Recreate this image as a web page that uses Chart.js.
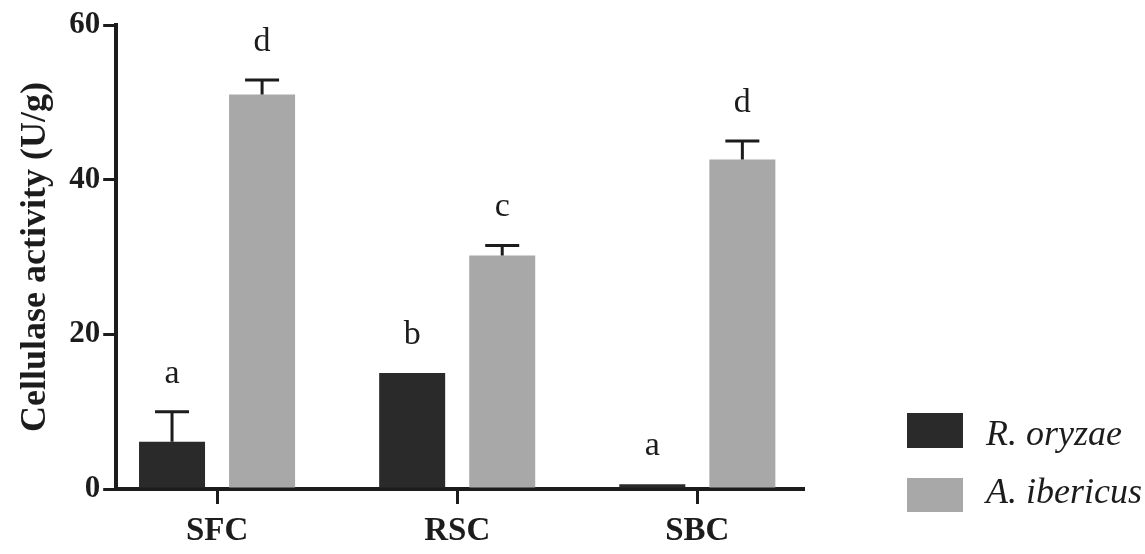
<!DOCTYPE html>
<html>
<head>
<meta charset="utf-8">
<script src="https://cdn.jsdelivr.net/npm/chart.js@4.4.1/dist/chart.umd.min.js"></script>
<style>
  html, body { margin: 0; padding: 0; background: #ffffff; }
  #wrap { width: 1145px; height: 554px; position: relative; }
</style>
</head>
<body>
<div id="wrap"><canvas id="c"></canvas></div>
<script>
const categories = ['SFC', 'RSC', 'SBC'];
const seriesNames = ['R. oryzae', 'A. ibericus'];
const rOryzae = [6.1, 15.0, 0.6];
const rOryzaeErr = [3.9, 0, 0];
const aIbericus = [51.0, 30.2, 42.6];
const aIbericusErr = [1.9, 1.3, 2.4];
const rOryzaeLetters = ['a', 'b', 'a'];
const aIbericusLetters = ['d', 'c', 'd'];
const yTicks = [0, 20, 40, 60];

const INK = '#1c1c1c';
const DARK = '#2a2a2a';
const GRAY = '#a8a8a8';

const errors = [rOryzaeErr, aIbericusErr];
const letters = [rOryzaeLetters, aIbericusLetters];

const errorPlugin = {
  id: 'errAndLetters',
  afterDatasetsDraw(chart) {
    const ctx = chart.ctx;
    const yScale = chart.scales.y;
    ctx.save();
    chart.data.datasets.forEach((ds, di) => {
      const meta = chart.getDatasetMeta(di);
      meta.data.forEach((bar, i) => {
        const v = ds.data[i].y;
        const e = errors[di][i];
        const yTop = yScale.getPixelForValue(v + e);
        if (e > 0) {
          ctx.strokeStyle = INK;
          ctx.lineWidth = 3;
          ctx.beginPath();
          ctx.moveTo(bar.x, bar.y);
          ctx.lineTo(bar.x, yTop);
          ctx.moveTo(bar.x - 17, yTop);
          ctx.lineTo(bar.x + 17, yTop);
          ctx.stroke();
        }
        ctx.fillStyle = INK;
        ctx.font = '34px "Liberation Serif"';
        ctx.textAlign = 'center';
        ctx.textBaseline = 'middle';
        ctx.fillText(letters[di][i], bar.x, Math.min(yTop, bar.y) - 38);
      });
    });
    ctx.restore();
  }
};

const legendPlugin = {
  id: 'sideLegend',
  afterDraw(chart) {
    const ctx = chart.ctx;
    ctx.save();
    const rows = [
      { box: [907, 413, 56, 35], base: 445 },
      { box: [907, 478, 56, 34], base: 503 }
    ];
    chart.data.datasets.forEach((ds, di) => {
      const r = rows[di];
      ctx.fillStyle = ds.backgroundColor;
      ctx.fillRect(r.box[0], r.box[1], r.box[2], r.box[3]);
      ctx.fillStyle = INK;
      ctx.font = 'italic 36px "Liberation Serif"';
      ctx.textAlign = 'left';
      ctx.textBaseline = 'alphabetic';
      ctx.fillText(ds.label, 986, r.base);
    });
    ctx.restore();
  }
};

new Chart(document.getElementById('c'), {
  type: 'bar',
  data: {
    datasets: [
      {
        label: seriesNames[0],
        data: rOryzae.map((v, i) => ({ x: i, y: v })),
        backgroundColor: DARK,
        borderWidth: 0
      },
      {
        label: seriesNames[1],
        data: aIbericus.map((v, i) => ({ x: i, y: v })),
        backgroundColor: GRAY,
        borderWidth: 0
      }
    ]
  },
  options: {
    responsive: true,
    maintainAspectRatio: false,
    animation: false,
    categoryPercentage: 0.75,
    barPercentage: 0.733,
    layout: { padding: { left: 10, top: 25, right: 342, bottom: -5 } },
    plugins: {
      legend: { display: false },
      tooltip: { enabled: false }
    },
    scales: {
      x: {
        type: 'linear',
        min: -0.42,
        max: 2.44,
        offset: false,
        afterBuildTicks: (scale) => { scale.ticks = categories.map((c, i) => ({ value: i })); },
        ticks: {
          callback: (v) => categories[v] !== undefined ? categories[v] : '',
          color: INK,
          padding: 11,
          maxRotation: 0,
          autoSkip: false,
          font: { family: '"Liberation Serif"', size: 33, weight: 'bold', lineHeight: 1.0 }
        },
        grid: {
          display: true,
          offset: false,
          drawOnChartArea: false,
          drawTicks: true,
          tickLength: 15,
          tickWidth: 3,
          tickColor: INK,
          lineWidth: 3,
          color: INK
        },
        border: { display: true, color: INK, width: 4 }
      },
      y: {
        min: 0,
        max: 60,
        afterBuildTicks: (scale) => { scale.ticks = yTicks.map(v => ({ value: v })); },
        ticks: {
          color: INK,
          padding: 3,
          font: { family: '"Liberation Serif"', size: 31, weight: 'bold' }
        },
        grid: {
          display: true,
          drawOnChartArea: false,
          drawTicks: true,
          tickLength: 13,
          tickWidth: 3,
          tickColor: INK,
          lineWidth: 3,
          color: INK
        },
        border: { display: true, color: INK, width: 4 },
        title: {
          display: true,
          text: 'Cellulase activity (U/g)',
          color: INK,
          padding: { top: 4, bottom: 9 },
          font: { family: '"Liberation Serif"', size: 36, weight: 'bold' }
        }
      }
    }
  },
  plugins: [errorPlugin, legendPlugin]
});
</script>
</body>
</html>
